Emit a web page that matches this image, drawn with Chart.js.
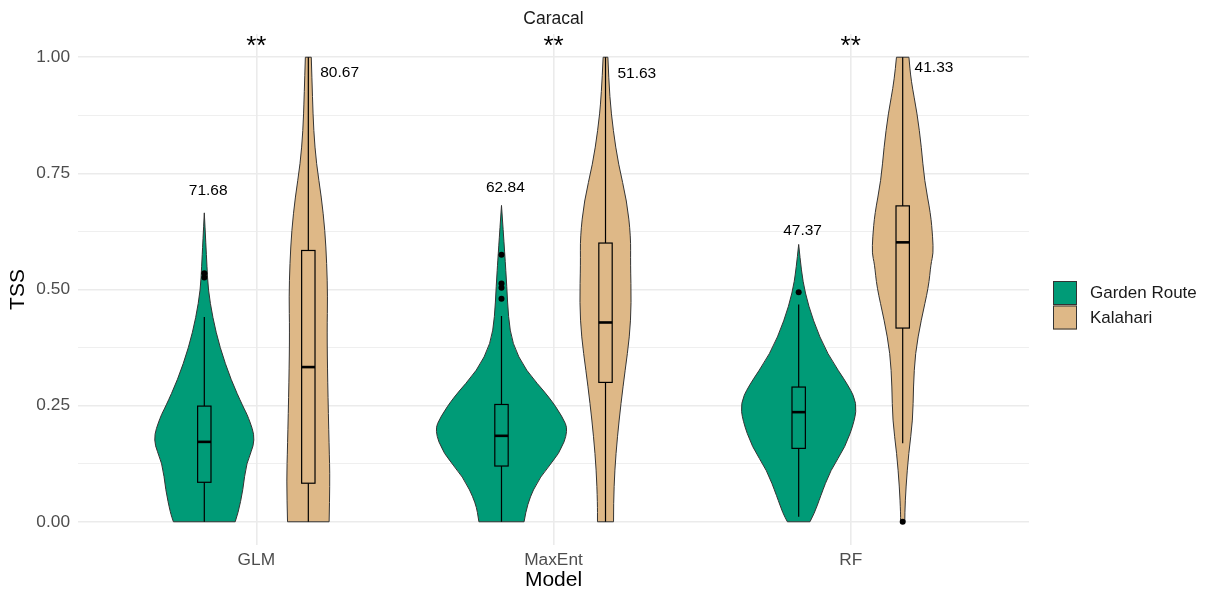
<!DOCTYPE html>
<html>
<head>
<meta charset="utf-8">
<script src="https://cdn.jsdelivr.net/npm/chart.js@4.4.1/dist/chart.umd.min.js"></script>
<style>
  html, body { margin: 0; padding: 0; background: #fff; }
</style>
</head>
<body>
<canvas id="ChartCanvas" width="1207" height="591"></canvas>
<script>
const models = ['GLM', 'MaxEnt', 'RF'];
const regions = ['Garden Route', 'Kalahari'];
const yTicks = [0, 0.25, 0.5, 0.75, 1];

// violin outlines: TSS level and half width of the density (x axis units)
const glmGardenTss = [0, 0.019, 0.068, 0.126, 0.176, 0.226, 0.247, 0.305, 0.376, 0.44, 0.5, 0.55, 0.6, 0.665];
const glmGardenDens = [0.104, 0.114, 0.130, 0.141, 0.174, 0.148, 0.131, 0.090, 0.052, 0.028, 0.013, 0.009, 0.005, 0];
const glmKalahariTss = [0, 0.09, 0.161, 0.305, 0.413, 0.484, 0.556, 0.627, 0.699, 0.771, 0.842, 0.914, 1.0];
const glmKalahariDens = [0.070, 0.073, 0.070, 0.065, 0.063, 0.065, 0.062, 0.056, 0.044, 0.027, 0.018, 0.014, 0.010];
const maxentGardenTss = [0, 0.04, 0.097, 0.147, 0.197, 0.226, 0.269, 0.326, 0.384, 0.441, 0.505, 0.577, 0.681];
const maxentGardenDens = [0.076, 0.086, 0.129, 0.196, 0.225, 0.205, 0.160, 0.081, 0.036, 0.023, 0.018, 0.011, 0];
const maxentKalahariTss = [0, 0.04, 0.111, 0.183, 0.255, 0.326, 0.398, 0.47, 0.556, 0.613, 0.69, 0.771, 0.842, 0.914, 1.0];
const maxentKalahariDens = [0.027, 0.027, 0.031, 0.040, 0.052, 0.066, 0.081, 0.087, 0.084, 0.085, 0.072, 0.043, 0.026, 0.014, 0.008];
const rfGardenTss = [0, 0.018, 0.054, 0.111, 0.161, 0.219, 0.255, 0.29, 0.362, 0.434, 0.494, 0.541, 0.597];
const rfGardenDens = [0.038, 0.053, 0.073, 0.107, 0.157, 0.189, 0.195, 0.171, 0.095, 0.048, 0.021, 0.009, 0];
const rfKalahariTss = [0, 0.018, 0.075, 0.147, 0.219, 0.29, 0.362, 0.434, 0.505, 0.556, 0.577, 0.613, 0.663, 0.735, 0.806, 0.878, 0.95, 1.0];
const rfKalahariDens = [0.007, 0.007, 0.011, 0.020, 0.034, 0.036, 0.042, 0.062, 0.087, 0.095, 0.103, 0.101, 0.094, 0.073, 0.063, 0.049, 0.028, 0.021];

// boxplot stats: lower whisker, q1, median, q3, upper whisker
const gardenBoxes = [
  [0, 0.085, 0.172, 0.249, 0.441],
  [0, 0.12, 0.185, 0.2525, 0.443],
  [0.011, 0.158, 0.236, 0.29, 0.4675]
];
const kalahariBoxes = [
  [0, 0.083, 0.333, 0.584, 1.0],
  [0, 0.30, 0.429, 0.60, 1.0],
  [0.169, 0.417, 0.6015, 0.68, 1.0]
];
const gardenOutliers = [[0.526, 0.535], [0.575, 0.513, 0.504, 0.48], [0.494]];
const kalahariOutliers = [[], [], [0]];

// text annotations
const signif = ['**', '**', '**'];
const gardenLabels = ['71.68', '62.84', '47.37'];
const gardenLabelTss = [0.713, 0.719, 0.627];
const kalahariLabels = ['80.67', '51.63', '41.33'];
const kalahariLabelTss = [0.967, 0.965, 0.978];

const colors = ['#009B77', '#DEB887'];
const dodge = [-0.175, 0.175];
const FONT = '"Liberation Sans", Arial, sans-serif';

const violins = [
  { m: 0, r: 0, tss: glmGardenTss, dens: glmGardenDens },
  { m: 0, r: 1, tss: glmKalahariTss, dens: glmKalahariDens },
  { m: 1, r: 0, tss: maxentGardenTss, dens: maxentGardenDens },
  { m: 1, r: 1, tss: maxentKalahariTss, dens: maxentKalahariDens },
  { m: 2, r: 0, tss: rfGardenTss, dens: rfGardenDens },
  { m: 2, r: 1, tss: rfKalahariTss, dens: rfKalahariDens }
];
const boxes = [gardenBoxes, kalahariBoxes];

function smoothTo(ctx, pts) {
  ctx.lineTo(pts[0][0], pts[0][1]);
  for (let i = 1; i < pts.length - 1; i++) {
    const mx = (pts[i][0] + pts[i + 1][0]) / 2;
    const my = (pts[i][1] + pts[i + 1][1]) / 2;
    ctx.quadraticCurveTo(pts[i][0], pts[i][1], mx, my);
  }
  const last = pts[pts.length - 1];
  ctx.lineTo(last[0], last[1]);
}

const violinPlugin = {
  id: 'violins',
  beforeDatasetsDraw(chart) {
    const { ctx, scales: { x, y } } = chart;
    violins.forEach(v => {
      const cx = v.m + 1 + dodge[v.r];
      const right = v.tss.map((t, i) => [x.getPixelForValue(cx + v.dens[i]), y.getPixelForValue(t)]);
      const left = v.tss.map((t, i) => [x.getPixelForValue(cx - v.dens[i]), y.getPixelForValue(t)]).reverse();
      ctx.save();
      ctx.beginPath();
      ctx.moveTo(right[0][0], right[0][1]);
      smoothTo(ctx, right);
      smoothTo(ctx, left);
      ctx.closePath();
      ctx.fillStyle = colors[v.r];
      ctx.fill();
      ctx.strokeStyle = '#333333';
      ctx.lineWidth = 1;
      ctx.stroke();

      // boxplot
      const b = boxes[v.r][v.m];
      const xl = x.getPixelForValue(cx - 0.0225);
      const xr = x.getPixelForValue(cx + 0.0225);
      const xc = x.getPixelForValue(cx);
      ctx.strokeStyle = '#000';
      ctx.lineWidth = 1.2;
      ctx.beginPath();
      ctx.moveTo(xc, y.getPixelForValue(b[0]));
      ctx.lineTo(xc, y.getPixelForValue(b[1]));
      ctx.moveTo(xc, y.getPixelForValue(b[3]));
      ctx.lineTo(xc, y.getPixelForValue(b[4]));
      ctx.stroke();
      const yt = y.getPixelForValue(b[3]);
      const yb = y.getPixelForValue(b[1]);
      ctx.fillStyle = colors[v.r];
      ctx.fillRect(xl, yt, xr - xl, yb - yt);
      ctx.strokeRect(xl, yt, xr - xl, yb - yt);
      ctx.lineWidth = 2.6;
      ctx.beginPath();
      const ym = y.getPixelForValue(b[2]);
      ctx.moveTo(xl, ym);
      ctx.lineTo(xr, ym);
      ctx.stroke();
      ctx.restore();
    });
  },
  afterDraw(chart) {
    const { ctx, scales: { x, y }, chartArea } = chart;
    ctx.save();
    ctx.fillStyle = '#1a1a1a';
    ctx.textAlign = 'center';
    ctx.textBaseline = 'middle';
    ctx.font = '17.5px ' + FONT;
    ctx.fillText('Caracal', (chartArea.left + chartArea.right) / 2, 19);

    ctx.fillStyle = '#000';
    ctx.font = '26px ' + FONT;
    ctx.textBaseline = 'alphabetic';
    signif.forEach((s, i) => {
      ctx.fillText(s, x.getPixelForValue(i + 1), y.getPixelForValue(1.032) + 12);
    });

    ctx.font = '15.5px ' + FONT;
    ctx.textBaseline = 'middle';
    ctx.textAlign = 'center';
    gardenLabels.forEach((t, i) => {
      ctx.fillText(t, x.getPixelForValue(i + 1 + dodge[0] + 0.013), y.getPixelForValue(gardenLabelTss[i]));
    });
    ctx.textAlign = 'left';
    kalahariLabels.forEach((t, i) => {
      ctx.fillText(t, x.getPixelForValue(i + 1 + dodge[1] + 0.04), y.getPixelForValue(kalahariLabelTss[i]));
    });

    // legend
    const lx = chartArea.right + 24;
    const ly = 281;
    ctx.font = '17px ' + FONT;
    regions.forEach((name, i) => {
      const top = ly + i * 24.5;
      ctx.fillStyle = colors[i];
      ctx.fillRect(lx, top, 24, 24);
      ctx.strokeStyle = '#333333';
      ctx.lineWidth = 1;
      ctx.strokeRect(lx + 0.5, top + 0.5, 23, 23);
      ctx.fillStyle = '#1a1a1a';
      ctx.fillText(name, lx + 37, top + 12.5);
    });
    ctx.restore();
  }
};

const pointData = r => {
  const src = r === 0 ? gardenOutliers : kalahariOutliers;
  const out = [];
  src.forEach((vals, m) => vals.forEach(v => out.push({ x: m + 1 + dodge[r], y: v })));
  return out;
};

function violinChart() {
  const myChart = document.getElementById('ChartCanvas');
  new Chart(myChart, {
    type: 'scatter',
    data: {
      datasets: regions.map((name, r) => ({
        label: name,
        data: pointData(r),
        backgroundColor: '#000',
        borderWidth: 0,
        pointRadius: 3,
        clip: false
      }))
    },
    options: {
      responsive: false,
      animation: false,
      layout: { padding: { top: 34, right: 178, bottom: 0, left: 0 } },
      plugins: { legend: { display: false }, tooltip: { enabled: false } },
      scales: {
        x: {
          type: 'linear',
          min: 0.4,
          max: 3.6,
          afterBuildTicks: s => { s.ticks = models.map((_, i) => ({ value: i + 1 })); },
          afterFit: s => { s.height = 46; },
          ticks: {
            callback: v => models[v - 1],
            color: '#4d4d4d',
            font: { family: FONT, size: 17.3 },
            padding: 5
          },
          grid: { color: '#EBEBEB', lineWidth: 1.6, drawTicks: false },
          border: { display: false },
          title: {
            display: true,
            text: 'Model',
            color: '#000',
            font: { family: FONT, size: 21, lineHeight: 1 },
            padding: { top: 0, bottom: 0 }
          }
        },
        y: {
          min: -0.05,
          max: 1.05,
          afterBuildTicks: s => {
            const t = [];
            for (let i = 0; i <= 8; i++) t.push({ value: i * 0.125 });
            s.ticks = t;
          },
          afterFit: s => { s.width = 78; },
          ticks: {
            callback: v => {
              const hit = yTicks.find(t => Math.abs(t - v) < 1e-6);
              return hit === undefined ? '' : hit.toFixed(2);
            },
            color: '#4d4d4d',
            font: { family: FONT, size: 17.3 },
            padding: 8
          },
          grid: {
            color: '#EBEBEB',
            lineWidth: c => (yTicks.some(t => Math.abs(t - c.tick.value) < 1e-6) ? 1.6 : 0.8),
            drawTicks: false
          },
          border: { display: false },
          title: {
            display: true,
            text: 'TSS',
            color: '#000',
            font: { family: FONT, size: 21, lineHeight: 1 },
            padding: { top: 8, bottom: 0 }
          }
        }
      }
    },
    plugins: [violinPlugin]
  });
}

document.addEventListener('DOMContentLoaded', () => {
  violinChart();
});
</script>
</body>
</html>
